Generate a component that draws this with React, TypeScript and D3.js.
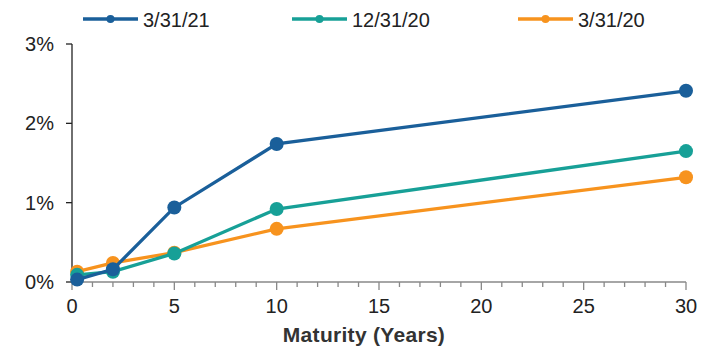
import React, { useEffect, useRef } from 'react';
import * as d3 from 'd3';

// maturities in years
const maturities = [0.25, 2, 5, 10, 30];
// yields in %
const yields2021Mar = [0.03, 0.16, 0.94, 1.74, 2.41];
const yields2020Dec = [0.09, 0.13, 0.36, 0.92, 1.65];
const yields2020Mar = [0.13, 0.24, 0.37, 0.67, 1.32];

const seriesNames = ['3/31/21', '12/31/20', '3/31/20'];
const seriesColors = ['#1a5f9a', '#17a097', '#f7931e'];
const xTicks = [0, 5, 10, 15, 20, 25, 30];
const yTicks = [0, 1, 2, 3];

export default function App() {
    const svgRef = useRef<SVGSVGElement>(null);

    useEffect(() => {
        if (!svgRef.current) return;
        const svg = d3.select(svgRef.current);
        svg.selectAll('*').remove();

        const font = 'Liberation Sans, Arial, sans-serif';
        const x = d3.scaleLinear().domain([0, 30]).range([72, 686]);
        const y = d3.scaleLinear().domain([0, 3]).range([282, 44]);

        // y axis
        const yAxis = svg.append('g');
        yAxis.append('line')
            .attr('x1', x(0)).attr('x2', x(0))
            .attr('y1', y(3)).attr('y2', y(0))
            .attr('stroke', '#222').attr('stroke-width', 1.3);
        yAxis.selectAll('.yt')
            .data(yTicks)
            .enter()
            .append('line')
            .attr('x1', x(0) - 6).attr('x2', x(0))
            .attr('y1', d => y(d)).attr('y2', d => y(d))
            .attr('stroke', '#222').attr('stroke-width', 1.3);
        yAxis.selectAll('.yl')
            .data(yTicks)
            .enter()
            .append('text')
            .attr('x', 54)
            .attr('y', d => y(d) + 7)
            .attr('text-anchor', 'end')
            .style('font-family', font)
            .style('font-size', '20px')
            .style('fill', '#222')
            .text(d => `${d}%`);

        // x axis
        const xAxis = svg.append('g');
        xAxis.append('line')
            .attr('x1', x(0)).attr('x2', x(30))
            .attr('y1', y(0)).attr('y2', y(0))
            .attr('stroke', '#888').attr('stroke-width', 1.5);
        xAxis.selectAll('.xt')
            .data(d3.range(0, 31))
            .enter()
            .append('line')
            .attr('x1', d => x(d)).attr('x2', d => x(d))
            .attr('y1', y(0))
            .attr('y2', d => y(0) + (d % 5 === 0 ? 8 : 5))
            .attr('stroke', '#888').attr('stroke-width', 1.3);
        xAxis.selectAll('.xl')
            .data(xTicks)
            .enter()
            .append('text')
            .attr('x', d => x(d))
            .attr('y', 313)
            .attr('text-anchor', 'middle')
            .style('font-family', font)
            .style('font-size', '20px')
            .style('fill', '#222')
            .text(d => d);
        svg.append('text')
            .attr('x', 364)
            .attr('y', 342)
            .attr('text-anchor', 'middle')
            .style('font-family', font)
            .style('font-size', '21px')
            .style('font-weight', 'bold')
            .style('letter-spacing', '0.3px')
            .style('fill', '#333')
            .text('Maturity (Years)');

        // series, drawn back to front
        const allSeries = [yields2021Mar, yields2020Dec, yields2020Mar];
        const line = d3.line<number>()
            .x((d, i) => x(maturities[i]))
            .y(d => y(d));
        [2, 1, 0].forEach(si => {
            const g = svg.append('g');
            g.append('path')
                .attr('d', line(allSeries[si]))
                .attr('fill', 'none')
                .attr('stroke', seriesColors[si])
                .attr('stroke-width', 3.3);
            g.selectAll('circle')
                .data(allSeries[si])
                .enter()
                .append('circle')
                .attr('cx', (d, i) => x(maturities[i]))
                .attr('cy', d => y(d))
                .attr('r', 7)
                .attr('fill', seriesColors[si]);
        });

        // legend
        const legendX = [83, 292, 518];
        const legend = svg.append('g');
        seriesNames.forEach((name, i) => {
            const lg = legend.append('g').attr('transform', `translate(${legendX[i]},19)`);
            lg.append('line')
                .attr('x1', 0).attr('x2', 55)
                .attr('y1', 0).attr('y2', 0)
                .attr('stroke', seriesColors[i]).attr('stroke-width', 3.3);
            lg.append('circle')
                .attr('cx', 27.5).attr('cy', 0).attr('r', 4)
                .attr('fill', seriesColors[i]);
            lg.append('text')
                .attr('x', 60)
                .attr('y', 8)
                .style('font-family', font)
                .style('font-size', '20px')
                .style('fill', '#222')
                .text(name);
        });
    }, []);

    return (
        <svg
            ref={svgRef}
            width={704}
            height={351}
            style={{ position: 'fixed', left: 0, top: 0, background: '#fff' }}
        />
    );
}
